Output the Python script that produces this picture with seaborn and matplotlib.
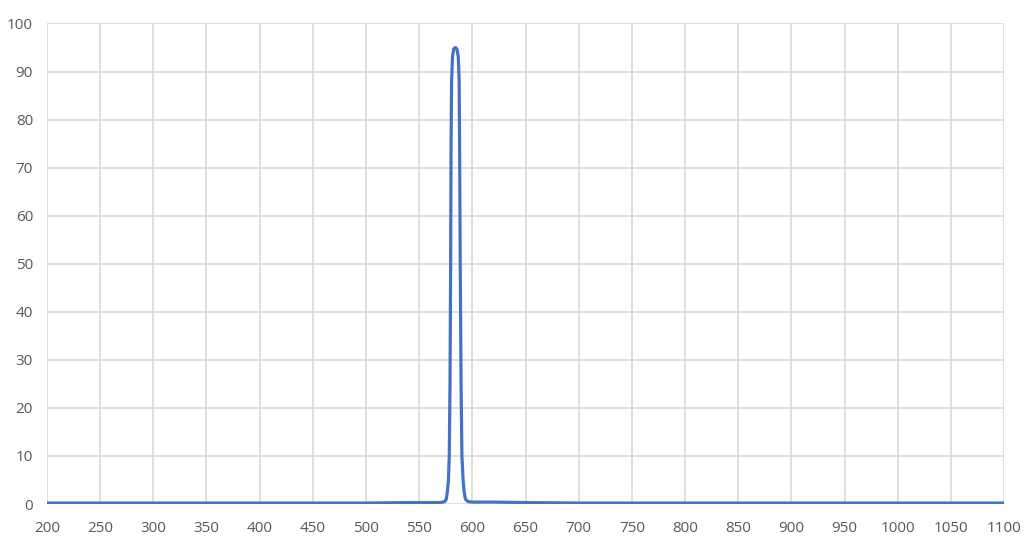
import seaborn as sns
import matplotlib.pyplot as plt
import pandas as pd

# wavelength (nm) and transmission (%)
wavelength = [200, 300, 400, 500, 540, 560, 570, 574, 575.5, 576.5, 577.5,
              578.3, 579, 579.6, 580, 580.5, 581.3, 582.5, 584, 585.5, 586.8,
              587.6, 588, 588.6, 589.4, 590.2, 591.3, 592.3, 593.5, 596, 600,
              620, 650, 700, 800, 900, 1000, 1100]
transmission = [0.2, 0.2, 0.2, 0.2, 0.3, 0.3, 0.3, 0.5, 1, 2.5, 5,
                10, 25, 50, 75, 88, 93, 94.7, 95, 94.7, 93,
                88, 75, 50, 25, 10, 5, 2.5, 1, 0.5, 0.4,
                0.4, 0.3, 0.2, 0.2, 0.2, 0.2, 0.2]
x_ticks = list(range(200, 1101, 50))
y_ticks = list(range(0, 101, 10))

df = pd.DataFrame({'wavelength': wavelength, 'transmission': transmission})

sns.set_style('white')
plt.rcParams['font.family'] = ['Open Sans', 'DejaVu Sans']

fig = plt.figure(figsize=(10.28, 5.42), dpi=100)
ax = fig.add_axes([0.0457, 0.0701, 0.931, 0.8866])

ax.grid(True, color='#d9d9d9', linewidth=1.2)
ax.set_axisbelow(True)
sns.lineplot(data=df, x='wavelength', y='transmission', ax=ax,
             color='#4472c4', linewidth=2.3)

ax.set_xlim(200, 1100)
ax.set_ylim(0, 100)
ax.set_xticks(x_ticks)
ax.set_yticks(y_ticks)
ax.set_xlabel('')
ax.set_ylabel('')
for s in ax.spines.values():
    s.set_visible(False)
ax.tick_params(axis='both', length=0, labelsize=11, labelcolor='#595959')
ax.tick_params(axis='x', pad=12)
ax.tick_params(axis='y', pad=10)

fig.savefig('out.png', dpi=100)
